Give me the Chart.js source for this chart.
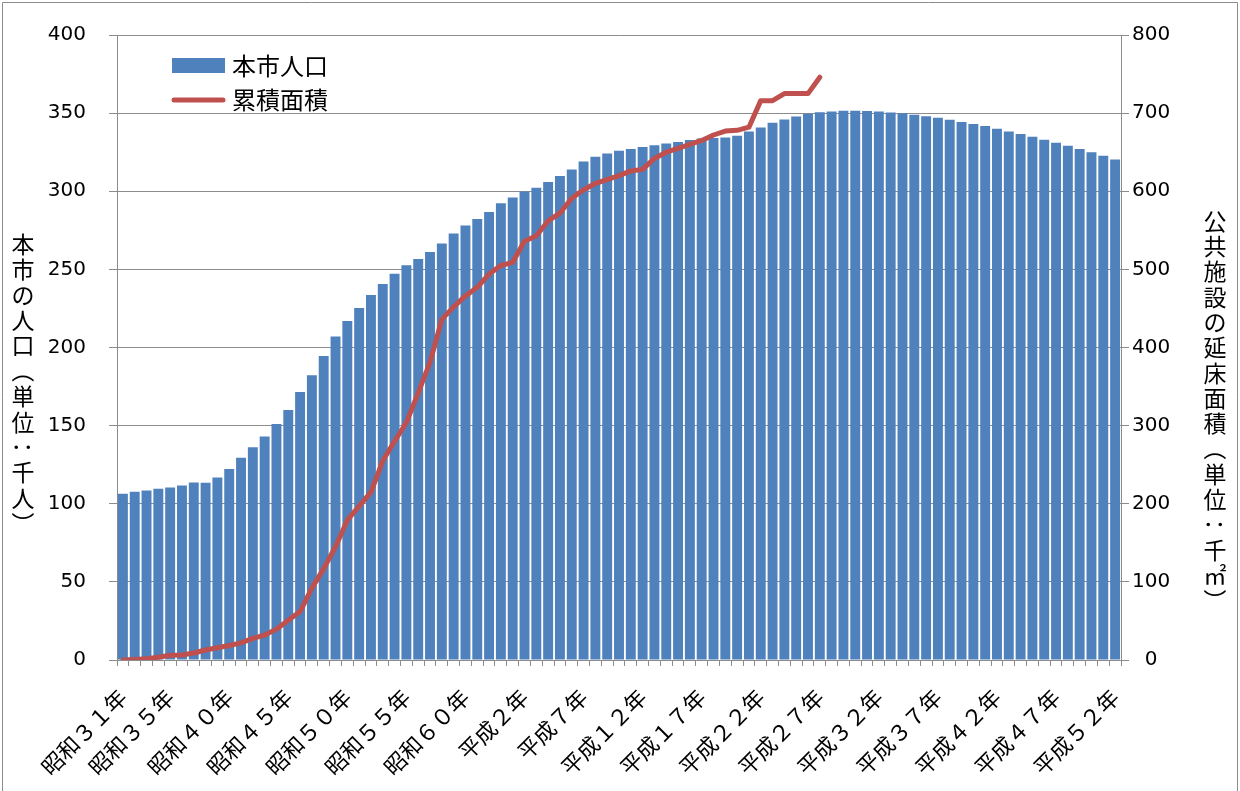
<!DOCTYPE html>
<html lang="ja">
<head>
<meta charset="utf-8">
<script src="https://cdn.jsdelivr.net/npm/chart.js@4.4.1/dist/chart.umd.min.js"></script>
<style>
  html, body { margin: 0; padding: 0; background: #fff; }
  #wrap { width: 1240px; height: 791px; position: relative; }
</style>
</head>
<body>
<div id="wrap"><canvas id="chart" width="1240" height="791"></canvas></div>
<script>
// 年度（和暦）
const categories = [
  '昭和３１年','昭和３２年','昭和３３年','昭和３４年','昭和３５年','昭和３６年','昭和３７年','昭和３８年','昭和３９年',
  '昭和４０年','昭和４１年','昭和４２年','昭和４３年','昭和４４年','昭和４５年','昭和４６年','昭和４７年','昭和４８年','昭和４９年',
  '昭和５０年','昭和５１年','昭和５２年','昭和５３年','昭和５４年','昭和５５年','昭和５６年','昭和５７年','昭和５８年','昭和５９年',
  '昭和６０年','昭和６１年','昭和６２年','昭和６３年',
  '平成元年',
  '平成２年','平成３年','平成４年','平成５年','平成６年','平成７年','平成８年','平成９年',
  '平成１０年','平成１１年','平成１２年','平成１３年','平成１４年','平成１５年','平成１６年','平成１７年','平成１８年','平成１９年',
  '平成２０年','平成２１年','平成２２年','平成２３年','平成２４年','平成２５年','平成２６年','平成２７年','平成２８年','平成２９年',
  '平成３０年','平成３１年','平成３２年','平成３３年','平成３４年','平成３５年','平成３６年','平成３７年','平成３８年','平成３９年',
  '平成４０年','平成４１年','平成４２年','平成４３年','平成４４年','平成４５年','平成４６年','平成４７年','平成４８年','平成４９年',
  '平成５０年','平成５１年','平成５２年'
];

// 横軸に表示する年度
const tickLabels = [
  '昭和３１年','昭和３５年','昭和４０年','昭和４５年','昭和５０年','昭和５５年','昭和６０年',
  '平成２年','平成７年','平成１２年','平成１７年','平成２２年','平成２７年','平成３２年',
  '平成３７年','平成４２年','平成４７年','平成５２年'
];

// 本市人口（千人）
const population = [
  106.4, 107.7, 108.5, 109.6, 110.4, 111.7, 113.6, 113.4, 116.8, 122.3,
  129.4, 136.2, 143.0, 151.0, 160.0, 171.5, 182.3, 194.5, 207.0, 217.0,
  225.3, 233.6, 240.6, 247.2, 252.6, 256.6, 261.1, 266.6, 273.0, 278.1,
  282.3, 286.7, 292.4, 296.0, 299.8, 302.3, 306.0, 309.8, 314.0, 319.0,
  322.1, 324.2, 326.0, 327.0, 328.3, 329.4, 330.6, 331.5, 332.8, 333.8,
  334.1, 334.4, 335.5, 338.3, 340.8, 343.8, 346.0, 347.9, 349.6, 350.6,
  351.1, 351.5, 351.5, 351.3, 351.1, 350.4, 349.9, 349.0, 348.0, 347.0,
  345.7, 344.4, 343.1, 341.7, 340.0, 338.3, 336.6, 334.9, 333.0, 331.1,
  329.1, 327.0, 324.9, 322.7, 320.4
];

// 公共施設の延床面積・累積（千㎡）
const floorArea = [
  0, 0.5, 1.7, 3.5, 6, 6.5, 9, 12.8, 15.7, 18.5,
  22, 27.7, 31.9, 39.5, 51, 62, 92, 117, 145, 179,
  197, 215, 255, 280, 304, 342, 381, 436, 452, 466,
  477, 494, 505, 509, 536, 543, 562, 572, 591, 602,
  610, 615, 620, 626, 628, 642, 650, 655, 660, 665,
  672, 677, 678, 682, 716, 716, 725, 725, 725, 746
];

const leftTitle = '本市の人口（単位：千人）';
const rightTitle = '公共施設の延床面積（単位：千㎡）';

const BLUE = '#4F81BD';
const RED = '#C0504D';
const AXIS = '#8c8c8c';
const JP = '"Noto Sans CJK JP", "Noto Sans CJK SC", sans-serif';

// 縦書きの軸タイトル（括弧・コロンは90度回転）
function drawVertical(ctx, text, x, y, step) {
  [...text].forEach((ch, i) => {
    const cy = y + i * step;
    if ('（）：'.includes(ch)) {
      ctx.save();
      ctx.translate(x, cy);
      ctx.rotate(Math.PI / 2);
      ctx.fillText(ch, 0, 0);
      ctx.restore();
    } else {
      ctx.fillText(ch, x, cy);
    }
  });
}

const decorations = {
  id: 'decorations',
  afterDraw(chart) {
    const ctx = chart.ctx;
    ctx.save();
    // 枠線
    ctx.strokeStyle = AXIS;
    ctx.lineWidth = 1;
    ctx.beginPath();
    ctx.moveTo(2.5, 800); ctx.lineTo(2.5, 2.5); ctx.lineTo(1237.5, 2.5); ctx.lineTo(1237.5, 800);
    ctx.stroke();

    // 軸タイトル
    ctx.fillStyle = '#000';
    ctx.font = '23px ' + JP;
    ctx.textAlign = 'center';
    ctx.textBaseline = 'middle';
    drawVertical(ctx, leftTitle, 23, 244, 25.4);
    drawVertical(ctx, rightTitle, 1215, 221, 25.3);

    // 凡例
    const bar = chart.data.datasets.find(d => d.type === 'bar');
    const line = chart.data.datasets.find(d => d.type === 'line');
    ctx.fillStyle = bar.backgroundColor;
    ctx.fillRect(172, 58, 53, 15);
    ctx.strokeStyle = line.borderColor;
    ctx.lineWidth = 5;
    ctx.lineCap = 'round';
    ctx.beginPath();
    ctx.moveTo(174, 100); ctx.lineTo(223, 100);
    ctx.stroke();
    ctx.fillStyle = '#000';
    ctx.font = '24px ' + JP;
    ctx.textAlign = 'left';
    ctx.fillText(bar.label, 232, 66);
    ctx.fillText(line.label, 232, 100);
    ctx.restore();
  }
};

new Chart(document.getElementById('chart'), {
  type: 'bar',
  data: {
    labels: categories,
    datasets: [
      {
        type: 'line',
        label: '累積面積',
        data: floorArea,
        yAxisID: 'y1',
        borderColor: RED,
        backgroundColor: RED,
        borderWidth: 5,
        pointRadius: 0,
        tension: 0,
        borderJoinStyle: 'round',
        borderCapStyle: 'round',
        order: 0
      },
      {
        type: 'bar',
        label: '本市人口',
        data: population,
        yAxisID: 'y',
        backgroundColor: BLUE,
        barPercentage: 0.84,
        categoryPercentage: 1.0,
        order: 1
      }
    ]
  },
  options: {
    responsive: false,
    animation: false,
    devicePixelRatio: 1,
    layout: { padding: { top: 33, left: 0, right: 0, bottom: 0 } },
    plugins: { legend: { display: false }, tooltip: { enabled: false } },
    scales: {
      x: {
        offset: true,
        grid: { display: true, drawOnChartArea: false, drawTicks: true, tickLength: 6, color: AXIS, offset: true },
        border: { color: AXIS, width: 1 },
        ticks: {
          autoSkip: false,
          minRotation: 45,
          maxRotation: 45,
          padding: 18,
          color: '#000',
          font: { family: JP, size: 22 },
          callback: (v, i) => tickLabels.includes(categories[i]) ? categories[i] : ''
        },
        afterFit: s => { s.height = 131; }
      },
      y: {
        position: 'left',
        min: 0, max: 400,
        ticks: { stepSize: 50, padding: 23, color: '#000', font: { family: 'DejaVu Sans', size: 20 } },
        grid: { color: AXIS, lineWidth: 1, tickLength: 8 },
        border: { color: AXIS, width: 1 },
        afterFit: s => { s.width = 117; }
      },
      y1: {
        position: 'right',
        min: 0, max: 800,
        ticks: { stepSize: 100, padding: 3, crossAlign: 'center', color: '#000', font: { family: 'DejaVu Sans', size: 20 } },
        grid: { drawOnChartArea: false, color: AXIS, tickLength: 8 },
        border: { color: AXIS, width: 1 },
        afterFit: s => { s.width = 119; }
      }
    }
  },
  plugins: [decorations]
});
</script>
</body>
</html>
